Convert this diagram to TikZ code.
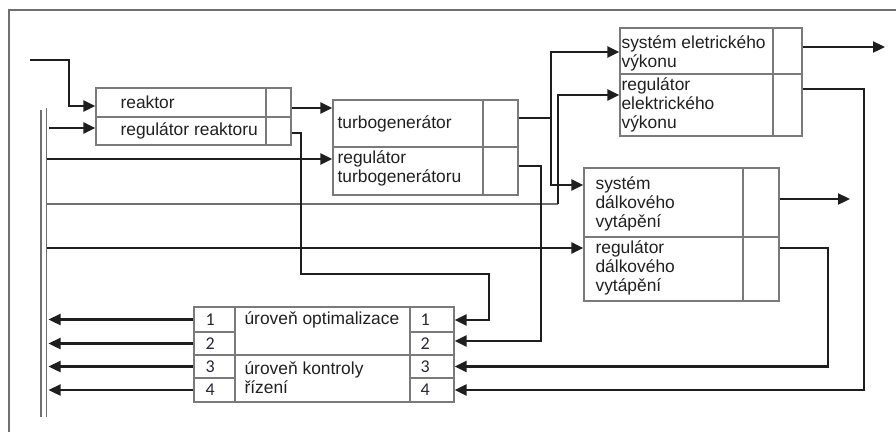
\documentclass[tikz,border=0pt]{standalone}
\usepackage{fontspec}
\setmainfont{Liberation Sans}
\newfontfamily\numfont{Carlito}
\usetikzlibrary{arrows.meta,calc}

\definecolor{boxline}{HTML}{7A7A7A}
\definecolor{wire}{HTML}{1E1E1E}
\definecolor{busline}{HTML}{707070}
\definecolor{numink}{HTML}{262636}
\definecolor{txt}{HTML}{202020}

% cell of a block: name, x1, y1, x2, y2 (pixel-like units, y downwards)
\newcommand{\cellbox}[5]{%
  \node[cell, minimum width={(#4-#2)*1pt}, minimum height={(#5-#3)*1pt}]
    (#1) at ({(#2+#4)/2},{(#3+#5)/2}) {};}

\tikzset{
  cell/.style={draw=boxline, line width=1.3pt, inner sep=0pt, fill=none},
  lbl/.style={anchor=west, inner sep=0pt, align=left, text=txt,
              font=\fontsize{17.4}{19}\selectfont},
  num/.style={anchor=west, inner sep=0pt, text=numink,
              font=\numfont\fontsize{18}{19}\selectfont},
  wireln/.style={draw=wire, line width=2.3pt},
  arr/.style={wireln, -{Triangle[length=12pt,width=11pt]}},
  busln/.style={draw=busline, line width=1.8pt},
  frameln/.style={draw=busline, line width=1.4pt},
}

\begin{document}
\begin{tikzpicture}[x=1pt, y=-1pt]
\useasboundingbox (0,0) rectangle (896,432);

% frame edges
\coordinate (fTL) at (9,10);
\coordinate (fTR) at (896,10);
\coordinate (fBL) at (9,432);
\draw[frameln] (fTR) -- (fTL) -- (fBL);

% reactor block
\cellbox{r1}{96}{88}{266}{117}
\cellbox{r2}{96}{117}{266}{145}
\cellbox{rs1}{266}{88}{291}{117}
\cellbox{rs2}{266}{117}{291}{145}
\node[lbl] (tr1) at ([xshift=25pt]r1.west) {reaktor};
\node[lbl] (tr2) at ([xshift=25pt]r2.west) {regulátor reaktoru};

% turbogenerator block
\cellbox{t1}{333}{100}{483}{147}
\cellbox{t2}{333}{147}{483}{195}
\cellbox{ts1}{483}{100}{518}{147}
\cellbox{ts2}{483}{147}{518}{195}
\node[lbl] (tt1) at ([xshift=5pt]t1.west) {turbogenerátor};
\node[lbl] (tt2) at ([xshift=5pt,yshift=3pt]t2.west) {regulátor\\turbogenerátoru};

% electric power block
\cellbox{e1}{620}{28}{773}{74}
\cellbox{e2}{620}{74}{773}{136}
\cellbox{es1}{773}{28}{802}{74}
\cellbox{es2}{773}{74}{802}{136}
\node[lbl] (te1) at ([xshift=2pt,yshift=-2pt]e1.west) {systém eletrického\\výkonu};
\node[lbl] (te2) at ([xshift=2pt]e2.west) {regulátor\\elektrického\\výkonu};

% district heating block
\cellbox{d1}{584}{168}{743}{237}
\cellbox{d2}{584}{237}{743}{301}
\cellbox{ds1}{743}{168}{779}{237}
\cellbox{ds2}{743}{237}{779}{301}
\node[lbl] (td1) at ([xshift=12pt,yshift=-1pt]d1.west) {systém\\dálkového\\vytápění};
\node[lbl] (td2) at ([xshift=12pt,yshift=1pt]d2.west) {regulátor\\dálkového\\vytápění};

% control levels block
\cellbox{L1}{194}{307}{235}{332}
\cellbox{L2}{194}{332}{235}{355}
\cellbox{L3}{194}{355}{235}{378}
\cellbox{L4}{194}{378}{235}{402}
\cellbox{M1}{235}{307}{410}{355}
\cellbox{M2}{235}{355}{410}{402}
\cellbox{R1}{410}{307}{454}{332}
\cellbox{R2}{410}{332}{454}{355}
\cellbox{R3}{410}{355}{454}{378}
\cellbox{R4}{410}{378}{454}{402}
\foreach \k in {1,2,3,4} {
  \node[num] (nl\k) at ([xshift=12pt]L\k.west) {\k};
  \node[num] (nr\k) at ([xshift=11pt]R\k.west) {\k};
}
\node[lbl] (tm1) at ([xshift=10pt,yshift=11pt]M1.west) {úroveň optimalizace};
\node[lbl] (tm2) at ([xshift=10pt,yshift=1pt]M2.west) {úroveň kontroly\\řízení};

% signal bus
\coordinate (busLT) at (41,110);
\coordinate (busLB) at (41,417);
\coordinate (busRT) at (46.5,108);
\coordinate (busRB) at (46.5,417);
\draw[busln] (busLT) -- (busLB);
\draw[busln] (busRT) -- (busRB);
\coordinate (busTip) at (48.5,0);

% plant input
\coordinate (in) at (30,60);
\coordinate (inBend) at (69,60);
\draw[arr] (in) -- (inBend) |- ([yshift=-3.5pt]r1.west);

% reactor -> turbogenerator
\draw[arr] ([yshift=-5.5pt]rs1.east) coordinate (a1) -- (a1 -| t1.west);

% bus -> regulators
\coordinate (b1) at (49,128);
\draw[arr] (b1) -- (b1 -| r2.west);
\coordinate (b2) at (46.5,159);
\draw[arr] (b2) -- (b2 -| t2.west);
\coordinate (b3) at (46.5,204);
\coordinate (b3x) at (558,204);
\draw[busln, line width=1.5pt] (b3) -- (b3x);
\draw[arr] (b3x) |- ([yshift=10pt]e2.west);
\coordinate (b4) at (46.5,248);
\draw[arr] (b4) -- (b4 -| d2.west);

% turbogenerator -> electric power and district heating
\coordinate (jx) at (551,0);
\draw[wireln] ([yshift=5.5pt]ts1.east) coordinate (j0) -- (j0 -| jx) coordinate (j);
\draw[arr] (j) |- ([yshift=-1pt]e1.west);
\draw[arr] (j) |- ([yshift=17.5pt]d1.west);

% plant outputs
\coordinate (out1) at (885,0);
\draw[arr] ([yshift=4pt]es1.east) coordinate (o1) -- (o1 -| out1);
\coordinate (out2) at (850,0);
\draw[arr] ([yshift=3.5pt]ds1.east) coordinate (o2) -- (o2 -| out2);

% regulator feedback into the control levels
\coordinate (f1a) at (301,274);
\coordinate (f1b) at (489,274);
\draw[arr] ([yshift=-2pt]rs2.east) -| (f1a) -- (f1b) |- ([yshift=-0.5pt]R1.east);
\coordinate (f2) at (541,0);
\draw[arr] ([yshift=5pt]ts2.east) coordinate (f2s) -- (f2s -| f2) |- ([yshift=2.5pt]R2.east);
\coordinate (f3) at (828,0);
\draw[arr] ([yshift=21pt]ds2.east) coordinate (f3s) -- (f3s -| f3) |- (R3.east);
\coordinate (f4) at (864,0);
\draw[arr] ([yshift=16pt]es2.east) coordinate (f4s) -- (f4s -| f4) |- (R4.east);

% control levels -> bus
\foreach \k in {1,2,3,4} {
  \draw[arr] (L\k.west) -- (L\k.west -| busTip);
}
\end{tikzpicture}
\end{document}
